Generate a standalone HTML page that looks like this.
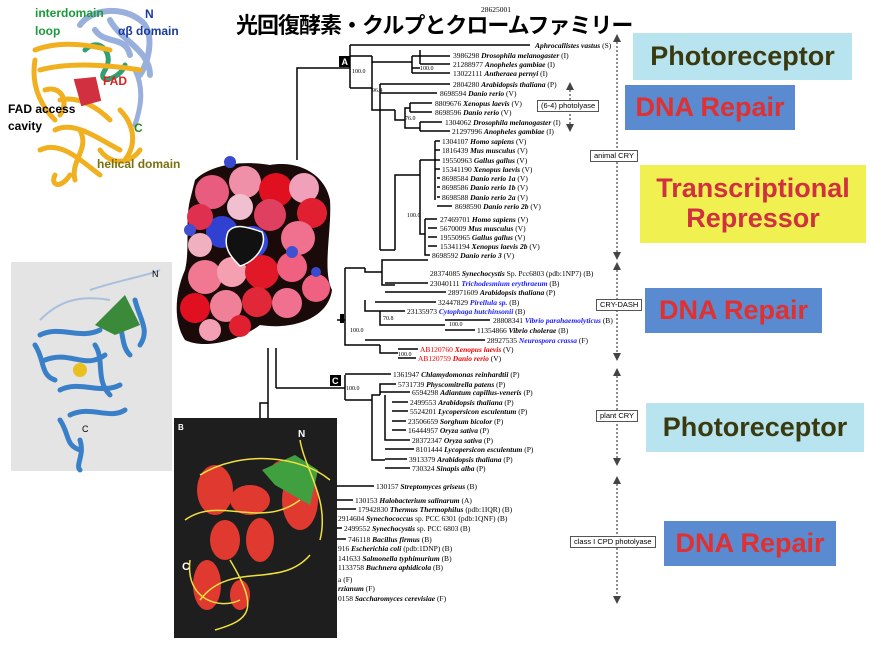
<!DOCTYPE html>
<html><head><meta charset="utf-8"><style>
body{margin:0;background:#fff;width:871px;height:653px;overflow:hidden;position:relative;font-family:"Liberation Sans",sans-serif}
.box{position:absolute;font-family:"Liberation Sans",sans-serif;font-weight:bold;display:flex;align-items:center;justify-content:center;text-align:center;line-height:1.1}
.t{font-family:"Liberation Serif",serif;font-size:7.5px;fill:#000}
.t tspan.i{font-style:italic;font-weight:bold}
.b{fill:#1a1aff}.r{fill:#e00}
.lab{position:absolute;border:1px solid #555;background:#fff;font-size:7.5px;padding:0 3px;line-height:10px}
</style></head><body>
<svg width="871" height="653" style="position:absolute;left:0;top:0">
<g stroke="#000" stroke-width="1.5" fill="none">
<path d="M297 160 V68 H350 M350 45 V88 M350 45 H530 M350 88 H372"/>
<path d="M350 56 H372 M372 56 V88"/>
<path d="M372 62 H412 M412 56 V68 M412 56 H420 V50 M412 68 H420 M420 52 V64 M420 56 H450 M420 64 H450 M412 73 H450 M412 68 V73"/>
<path d="M372 88 V110 H380 M380 84 V250 M380 84 H450 M380 250 H395 M380 93 H437 M380 110 H395 M395 110 V120 H405 V108 H410 M405 120 V128 H420 M410 103 V112 M410 103 H432 M410 112 H432 M420 122 V131 M420 122 H442 M420 131 H450"/>
<path d="M395 250 V175 H420 M420 160 V234 H425 M420 160 H435 M435 141 V200 M435 141 H440 M435 150 H440 M435 160 H440 M435 169 H440 M437 178 H440 M437 187 H440 M437 197 H440 M437 206 H452 M425 219 V255 H430 M425 219 H437 M428 228 H437 M428 237 H437 M428 246 H437"/>
<path d="M268 418 V348 M276 388 V348 M260 418 V403 H268 M276 388 H345"/>
<path d="M337 320 H345 M345 268 V345 H380 M345 268 H365 M365 268 V272 H382 V285 H395 M382 272 V260 H428 M385 283 H428 M385 292 H446 M375 302 H436 M365 300 V311 H380 M380 311 H405 M380 311 V325 H445 M445 320 H490 M445 330 H475 M365 340 H485 M380 345 V353 H398 M398 349 H418 M398 358 H416"/>
<path d="M345 375 V400 M345 374 H391 M345 400 H372 M372 420 V395 H380 M380 395 V384 H396 M380 392 H410 M385 395 V440 H392 M392 402 H408 M392 411 H408 M392 421 H406 M392 430 H406 M372 420 V460 H385 M385 440 H410 M385 449 H414 M385 459 H407 M385 468 H410"/>
<path d="M300 486 H374 M300 500 H353 M300 509 H356 M300 518 H336 M300 528 H342 M300 539 H346"/>
</g>
<rect x="339" y="56" width="11" height="11" fill="#000"/><text x="341.5" y="65" font-size="9" fill="#fff" font-weight="bold">A</text>
<rect x="330" y="375" width="11" height="11" fill="#000"/><text x="332" y="384" font-size="9" fill="#fff" font-weight="bold">C</text>
<rect x="340" y="314" width="4" height="9" fill="#000"/>
<g class="t" style="font-size:6px">
<text x="352" y="73">100.0</text><text x="420" y="70">100.0</text><text x="372" y="92">96.4</text><text x="405" y="120">76.0</text>
<text x="407" y="217">100.0</text><text x="350" y="332">100.0</text><text x="383" y="320">70.8</text><text x="449" y="326">100.0</text><text x="398" y="356">100.0</text><text x="346" y="390">100.0</text>
</g>
<g class="t">
<text x="481" y="12">28625001</text>
<text x="535" y="48"><tspan class="i">Aphrocallistes vastus</tspan> (S)</text>
<text x="453" y="58">3986298 <tspan class="i">Drosophila melanogaster</tspan> (I)</text>
<text x="453" y="67">21288977 <tspan class="i">Anopheles gambiae</tspan> (I)</text>
<text x="453" y="76">13022111 <tspan class="i">Antheraea pernyi</tspan> (I)</text>
<text x="453" y="87">2804280 <tspan class="i">Arabidopsis thaliana</tspan> (P)</text>
<text x="440" y="96">8698594 <tspan class="i">Danio rerio</tspan> (V)</text>
<text x="435" y="106">8809676 <tspan class="i">Xenopus laevis</tspan> (V)</text>
<text x="435" y="115">8698596 <tspan class="i">Danio rerio</tspan> (V)</text>
<text x="445" y="125">1304062 <tspan class="i">Drosophila melanogaster</tspan> (I)</text>
<text x="452" y="134">21297996 <tspan class="i">Anopheles gambiae</tspan> (I)</text>
<text x="442" y="144">1304107 <tspan class="i">Homo sapiens</tspan> (V)</text>
<text x="442" y="153">1816439 <tspan class="i">Mus musculus</tspan> (V)</text>
<text x="442" y="163">19550963 <tspan class="i">Gallus gallus</tspan> (V)</text>
<text x="442" y="172">15341190 <tspan class="i">Xenopus laevis</tspan> (V)</text>
<text x="442" y="181">8698584 <tspan class="i">Danio rerio 1a</tspan> (V)</text>
<text x="442" y="190">8698586 <tspan class="i">Danio rerio 1b</tspan> (V)</text>
<text x="442" y="200">8698588 <tspan class="i">Danio rerio 2a</tspan> (V)</text>
<text x="455" y="209">8698590 <tspan class="i">Danio rerio 2b</tspan> (V)</text>
<text x="440" y="222">27469701 <tspan class="i">Homo sapiens</tspan> (V)</text>
<text x="440" y="231">5670009 <tspan class="i">Mus musculus</tspan> (V)</text>
<text x="440" y="240">19550965 <tspan class="i">Gallus gallus</tspan> (V)</text>
<text x="440" y="249">15341194 <tspan class="i">Xenopus laevis 2b</tspan> (V)</text>
<text x="432" y="258">8698592 <tspan class="i">Danio rerio 3</tspan> (V)</text>
<text x="430" y="276">28374085 <tspan class="i">Synechocystis</tspan> Sp. Pcc6803 (pdb:1NP7) (B)</text>
<text x="430" y="286">23040111 <tspan class="i b">Trichodesmium erythraeum</tspan> (B)</text>
<text x="448" y="295">28971609 <tspan class="i">Arabidopsis thaliana</tspan> (P)</text>
<text x="438" y="305">32447829 <tspan class="i b">Pirellula sp.</tspan> (B)</text>
<text x="407" y="314">23135973 <tspan class="i b">Cytophaga hutchinsonii</tspan> (B)</text>
<text x="493" y="323">28808341 <tspan class="i b">Vibrio parahaemolyticus</tspan> (B)</text>
<text x="477" y="333">11354866 <tspan class="i">Vibrio cholerae</tspan> (B)</text>
<text x="487" y="343">28927535 <tspan class="i b">Neurospora crassa</tspan> (F)</text>
<text x="420" y="352"><tspan class="r">AB120760 </tspan><tspan class="i r">Xenopus laevis</tspan> (V)</text>
<text x="418" y="361"><tspan class="r">AB120759 </tspan><tspan class="i r">Danio rerio</tspan> (V)</text>
<text x="393" y="377">1361947 <tspan class="i">Chlamydomonas reinhardtii</tspan> (P)</text>
<text x="398" y="387">5731739 <tspan class="i">Physcomitrella patens</tspan> (P)</text>
<text x="412" y="395">6594298 <tspan class="i">Adiantum capillus-veneris</tspan> (P)</text>
<text x="410" y="405">2499553 <tspan class="i">Arabidopsis thaliana</tspan> (P)</text>
<text x="410" y="414">5524201 <tspan class="i">Lycopersicon esculentum</tspan> (P)</text>
<text x="408" y="424">23506659 <tspan class="i">Sorghum bicolor</tspan> (P)</text>
<text x="408" y="433">16444957 <tspan class="i">Oryza sativa</tspan> (P)</text>
<text x="412" y="443">28372347 <tspan class="i">Oryza sativa</tspan> (P)</text>
<text x="416" y="452">8101444 <tspan class="i">Lycopersicon esculentum</tspan> (P)</text>
<text x="409" y="462">3913379 <tspan class="i">Arabidopsis thaliana</tspan> (P)</text>
<text x="412" y="471">730324 <tspan class="i">Sinapis alba</tspan> (P)</text>
<text x="376" y="489">130157 <tspan class="i">Streptomyces griseus</tspan> (B)</text>
<text x="355" y="503">130153 <tspan class="i">Halobacterium salinarum</tspan> (A)</text>
<text x="358" y="512">17942830 <tspan class="i">Thermus Thermophilus</tspan> (pdb:1IQR) (B)</text>
<text x="338" y="521">2914604 <tspan class="i">Synechococcus</tspan> sp. PCC 6301 (pdb:1QNF) (B)</text>
<text x="344" y="531">2499552 <tspan class="i">Synechocystis</tspan> sp. PCC 6803 (B)</text>
<text x="348" y="542">746118 <tspan class="i">Bacillus firmus</tspan> (B)</text>
<text x="338" y="551">916 <tspan class="i">Escherichia coli</tspan> (pdb:1DNP) (B)</text>
<text x="338" y="561">141633 <tspan class="i">Salmonella typhimurium</tspan> (B)</text>
<text x="338" y="570">1133758 <tspan class="i">Buchnera aphidicola</tspan> (B)</text>
<text x="338" y="582">a (F)</text>
<text x="338" y="591"><tspan class="i">rzianum</tspan> (F)</text>
<text x="338" y="601">0158 <tspan class="i">Saccharomyces cerevisiae</tspan> (F)</text>
</g>
<g stroke="#444" stroke-width="1.2" stroke-dasharray="2,2" fill="none">
<path d="M617 38 V256 M617 266 V357 M617 372 V462 M617 480 V600 M570 86 V128"/>
</g>
<g fill="#444">
<path d="M613 42 L617 34 L621 42Z M613 252 L617 260 L621 252Z M613 270 L617 262 L621 270Z M613 353 L617 361 L621 353Z M613 376 L617 368 L621 376Z M613 458 L617 466 L621 458Z M613 484 L617 476 L621 484Z M613 596 L617 604 L621 596Z M566 90 L570 82 L574 90Z M566 124 L570 132 L574 124Z"/>
</g>
<!-- top-left protein ribbons -->
<g fill="none" stroke-linecap="round">
<path d="M80 25 C90 10 120 5 140 20 C155 30 150 60 140 75 M110 20 C120 40 150 50 150 75 M95 30 C105 45 125 35 130 55" stroke="#9ab0dc" stroke-width="6"/>
<path d="M85 50 C100 35 115 55 105 70 C95 85 120 80 125 65" stroke="#30a070" stroke-width="5"/>
<path d="M135 70 C145 90 140 110 135 125" stroke="#9ab0dc" stroke-width="5"/>
<path d="M35 50 C60 40 90 45 110 50 M40 70 C70 62 110 65 140 70 M35 60 C30 90 45 110 55 120 M60 100 C80 95 100 110 110 120 M55 130 C75 120 100 140 120 150 M40 150 C60 140 80 160 100 175 M70 175 C60 190 50 185 55 175 M120 110 C130 120 140 140 125 160 M80 130 C90 150 70 160 75 180 M100 150 C110 165 130 165 140 150 M45 90 C60 85 70 100 60 115" stroke="#f0b020" stroke-width="5"/>
<path d="M75 80 L95 78 L100 100 L82 105Z" fill="#d03040" stroke="#d03040" stroke-width="2"/>
</g>
<text x="35" y="17" font-size="12" font-weight="bold" fill="#1a9a3a">interdomain</text>
<text x="35" y="35" font-size="12" font-weight="bold" fill="#1a9a3a">loop</text>
<text x="145" y="18" font-size="12" font-weight="bold" fill="#1a3aa0">N</text>
<text x="118" y="35" font-size="12" font-weight="bold" fill="#1a3aa0">αβ domain</text>
<text x="103" y="85" font-size="12" font-weight="bold" fill="#e02020">FAD</text>
<text x="8" y="113" font-size="12" font-weight="bold" fill="#000">FAD access</text>
<text x="8" y="130" font-size="12" font-weight="bold" fill="#000">cavity</text>
<text x="134" y="132" font-size="12" font-weight="bold" fill="#2a8a1a">C</text>
<text x="97" y="168" font-size="12" font-weight="bold" fill="#7a7010">helical domain</text>
<!-- surface -->
<path d="M195 180 C210 165 240 160 270 165 C300 160 325 175 330 200 C332 230 322 270 332 290 C328 320 290 330 260 325 C240 340 205 350 185 340 C172 320 176 290 185 270 C190 250 185 220 190 200 Z" fill="#1a0a0a"/>
<g>
<circle cx="212" cy="192" r="17" fill="#e85c80"/><circle cx="245" cy="182" r="16" fill="#f090a8"/><circle cx="276" cy="190" r="17" fill="#e01020"/><circle cx="304" cy="188" r="15" fill="#f0a0b8"/>
<circle cx="312" cy="213" r="15" fill="#e02030"/><circle cx="298" cy="238" r="17" fill="#f07090"/><circle cx="270" cy="215" r="16" fill="#e04060"/><circle cx="240" cy="207" r="13" fill="#f0c0d0"/>
<circle cx="222" cy="232" r="16" fill="#3040d0"/><circle cx="252" cy="242" r="16" fill="#3448e0"/><circle cx="200" cy="245" r="12" fill="#f0b0c0"/><circle cx="200" cy="217" r="13" fill="#e03050"/>
<circle cx="205" cy="277" r="17" fill="#f07890"/><circle cx="232" cy="272" r="15" fill="#f4a0b0"/><circle cx="262" cy="272" r="17" fill="#e01828"/><circle cx="292" cy="267" r="15" fill="#f06080"/>
<circle cx="316" cy="288" r="14" fill="#f06080"/><circle cx="195" cy="308" r="15" fill="#e01020"/><circle cx="226" cy="306" r="16" fill="#f08098"/><circle cx="257" cy="302" r="15" fill="#e02838"/>
<circle cx="287" cy="303" r="15" fill="#f07090"/><circle cx="210" cy="330" r="11" fill="#f4a0b4"/><circle cx="240" cy="326" r="11" fill="#e02030"/><circle cx="292" cy="252" r="6" fill="#4050d0"/><circle cx="316" cy="272" r="5" fill="#3a4ad0"/><circle cx="230" cy="162" r="6" fill="#3a4ad0"/><circle cx="190" cy="230" r="6" fill="#4050d0"/>
</g>
<path d="M228 232 C235 222 250 228 262 232 C268 245 255 262 240 266 C232 258 222 248 228 232Z" fill="#111" stroke="#fff" stroke-width="1.5"/>
<!-- gray panel -->
<rect x="11" y="262" width="161" height="209" fill="#e4e4e4"/>
<g fill="none" stroke="#3a80c8" stroke-width="5" stroke-linecap="round">
<path d="M40 335 C60 325 80 340 100 330 M45 360 C70 350 85 370 105 355 M60 390 C80 380 100 395 120 385 M70 415 C90 405 110 420 125 410 M80 440 C85 455 75 465 80 470 M115 315 C125 330 120 345 130 355 M135 300 C140 320 150 330 140 345 M35 345 C45 360 40 375 55 380 M95 345 C105 360 95 380 110 395 M60 420 C70 435 65 445 80 450"/>
</g>
<path d="M90 290 C120 280 150 275 160 270 M40 320 C60 300 80 295 110 300" stroke="#a8c0dc" stroke-width="2" fill="none"/>
<path d="M95 325 L125 295 L140 325 L115 335Z" fill="#3a8a3a"/>
<circle cx="80" cy="370" r="7" fill="#e8c020"/>
<text x="152" y="277" font-size="9">N</text><text x="82" y="432" font-size="9">C</text>
<!-- dark panel -->
<rect x="174" y="418" width="163" height="220" fill="#1e1e1e"/>
<g fill="#e03a30">
<ellipse cx="215" cy="490" rx="18" ry="25"/><ellipse cx="250" cy="500" rx="20" ry="15"/><ellipse cx="300" cy="500" rx="18" ry="30"/><ellipse cx="225" cy="540" rx="15" ry="20"/>
<ellipse cx="260" cy="540" rx="14" ry="22"/><ellipse cx="207" cy="585" rx="14" ry="25"/><ellipse cx="240" cy="595" rx="10" ry="15"/><ellipse cx="285" cy="470" rx="14" ry="10"/>
</g>
<path d="M262 470 L295 455 L318 470 L310 505 L275 485Z" fill="#40a040"/>
<g fill="none" stroke="#f0e040" stroke-width="1.5">
<path d="M200 475 C240 450 300 455 330 480 M185 520 C220 495 260 530 300 500 M200 600 C230 560 280 590 310 555 M230 560 C260 610 250 620 215 630 M300 440 C305 470 330 500 320 540 M190 560 C185 600 220 610 240 600"/>
</g>
<text x="178" y="424" font-size="8" fill="#fff" font-weight="bold" dy="6">B</text>
<text x="298" y="431" font-size="10" fill="#fff" font-weight="bold" dy="6">N</text>
<text x="182" y="570" font-size="11" fill="#fff" font-weight="bold">C</text>
</svg>
<div style="position:absolute;left:236px;top:8px;font-size:22px;font-weight:bold;font-family:'Liberation Sans','Noto Sans CJK JP',sans-serif;white-space:nowrap;letter-spacing:-1px">光回復酵素・クルプとクロームファミリー</div>
<div class="lab" style="left:537px;top:100px">(6-4) photolyase</div>
<div class="lab" style="left:590px;top:150px">animal CRY</div>
<div class="lab" style="left:596px;top:299px">CRY-DASH</div>
<div class="lab" style="left:596px;top:410px">plant CRY</div>
<div class="lab" style="left:570px;top:536px">class I CPD photolyase</div>
<div class="box" style="left:633px;top:33px;width:219px;height:47px;background:#b8e4f0;color:#3a3a10;font-size:27px">Photoreceptor</div>
<div class="box" style="left:625px;top:85px;width:170px;height:45px;background:#5a8ad0;color:#e03030;font-size:27px">DNA Repair</div>
<div class="box" style="left:640px;top:165px;width:226px;height:78px;background:#f0f050;color:#d03040;font-size:27px">Transcriptional<br>Repressor</div>
<div class="box" style="left:645px;top:288px;width:177px;height:45px;background:#5a8ad0;color:#e03030;font-size:27px">DNA Repair</div>
<div class="box" style="left:646px;top:403px;width:218px;height:49px;background:#b8e4f0;color:#3a3a10;font-size:27px">Photoreceptor</div>
<div class="box" style="left:664px;top:521px;width:172px;height:45px;background:#5a8ad0;color:#e03030;font-size:27px">DNA Repair</div>
</body></html>
